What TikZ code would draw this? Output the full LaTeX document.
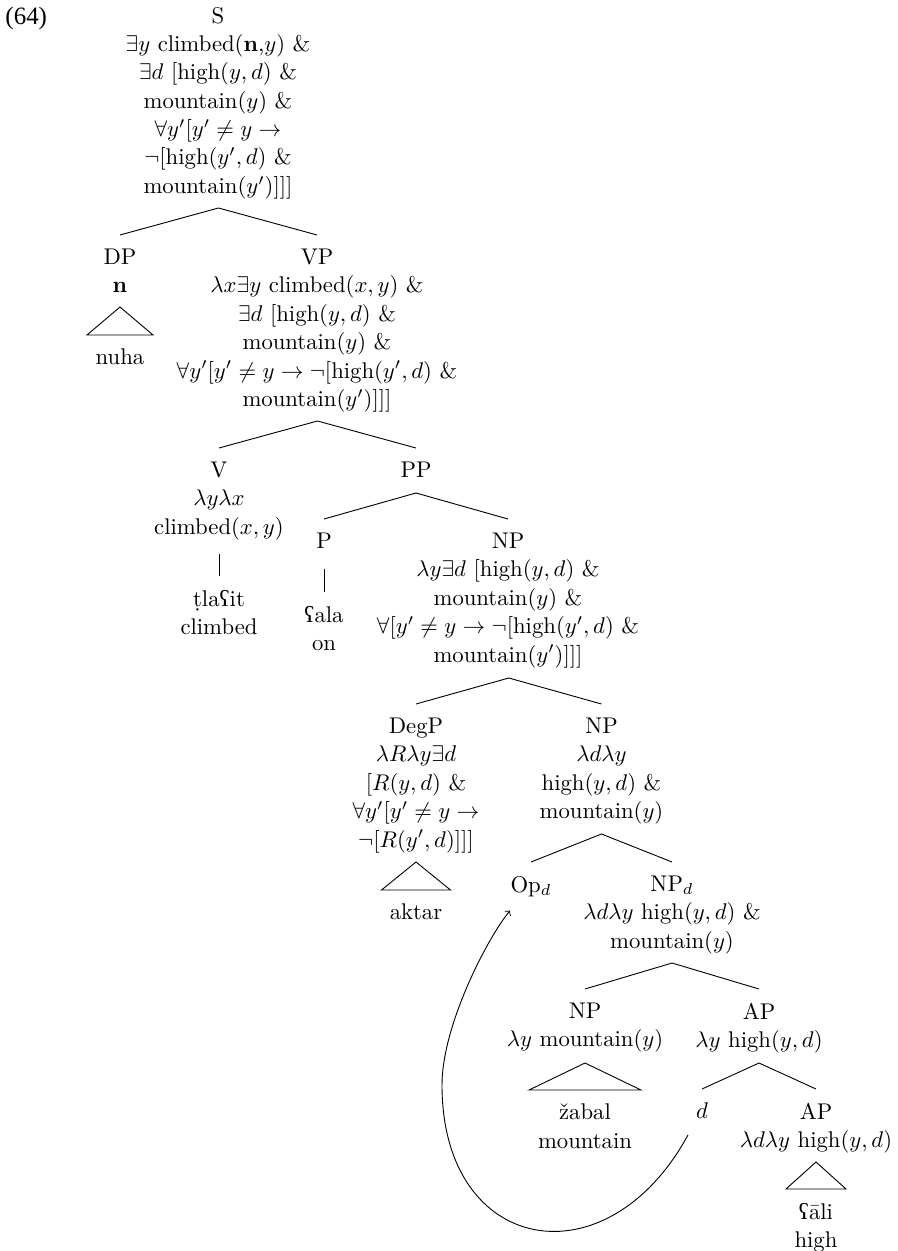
\documentclass[tikz,border=0pt]{standalone}
\usepackage{amsmath}
\usepackage{fontspec}
\newfontfamily\ipafont{Liberation Serif}
\newfontfamily\exfont{Liberation Serif}
\usetikzlibrary{calc}

\begin{document}
\begin{tikzpicture}[x=0.4405pt,y=-0.4405pt,
        lab/.style={anchor=north,align=center,inner xsep=0pt,inner ysep=6pt,font=\fontsize{10pt}{12.5pt}\selectfont}]
        \useasboundingbox (0,0) rectangle (897,1251);

        % Example number
        \node[anchor=west,inner sep=0pt,font=\exfont\fontsize{11pt}{13pt}\selectfont] (num) at (5,19) {(64)};

        % Draw the tree nodes
        \node[lab] (S) at (218,-7) {S\\$\exists y$ climbed(\textbf{n},$y$) \&\\$\exists d$ [high$(y,d)$ \&\\mountain$(y)$ \&\\$\forall y'[y'\neq y\to$\\$\neg[$high$(y',d)$ \&\\mountain$(y')]]]$};
        \node[lab] (DP) at (120,235) {DP\\\textbf{n}};
        \node[lab] (nuha) at (120,335) {nuha};
        \node[lab] (VP) at (317,235) {VP\\$\lambda x\exists y$ climbed$(x,y)$ \&\\$\exists d$ [high$(y,d)$ \&\\mountain$(y)$ \&\\$\forall y'[y'\neq y\to\neg[$high$(y',d)$ \&\\mountain$(y')]]]$};
        \node[lab] (V) at (219,448) {V\\$\lambda y\lambda x$\\climbed$(x,y)$};
        \node[lab] (tlait) at (219,576) {ṭla{\ipafont ʕ}it\\climbed};
        \node[lab] (PP) at (416,448) {PP};
        \node[lab] (P) at (324,519) {P};
        \node[lab] (ala) at (324,592) {{\ipafont ʕ}ala\\on};
        \node[lab] (NPa) at (508,519) {NP\\$\lambda y\exists d$ [high$(y,d)$ \&\\mountain$(y)$ \&\\$\forall[y'\neq y\to\neg[$high$(y',d)$ \&\\mountain$(y')]]]$};
        \node[lab] (DegP) at (416,704) {DegP\\$\lambda R\lambda y\exists d$\\$[R(y,d)$ \&\\$\forall y'[y'\neq y\to$\\$\neg[R(y',d)]]]$};
        \node[lab] (aktar) at (416,890) {aktar};
        \node[lab] (NPb) at (601.5,704) {NP\\$\lambda d\lambda y$\\high$(y,d)$ \&\\mountain$(y)$};
        \node[lab] (Op) at (531,862) {Op$_d$};
        \node[lab] (NPd) at (672,862) {NP$_d$\\$\lambda d\lambda y$ high$(y,d)$ \&\\mountain$(y)$};
        \node[lab] (NPc) at (585,989) {NP\\$\lambda y$ mountain$(y)$};
        \node[lab] (zabal) at (585,1090) {žabal\\mountain};
        \node[lab] (APa) at (759,989) {AP\\$\lambda y$ high$(y,d)$};
        \node[lab] (d) at (702,1089) {$d$};
        \node[lab] (APb) at (816,1089) {AP\\$\lambda d\lambda y$ high$(y,d)$};
        \node[lab] (ali) at (816,1189) {{\ipafont ʕ}āli\\high};

        % Draw the branches
        \draw (DP.north) -- ($(DP.north)!.5!(VP.north)+(0,-27)$) -- (VP.north);
        \draw (V.north) -- ($(V.north)!.5!(PP.north)+(0,-27)$) -- (PP.north);
        \draw (P.north) -- ($(P.north)!.5!(NPa.north)+(0,-26)$) -- (NPa.north);
        \draw (DegP.north) -- ($(DegP.north)!.5!(NPb.north)+(0,-26)$) -- (NPb.north);
        \draw (Op.north) -- ($(Op.north)!.5!(NPd.north)+(0,-28)$) -- (NPd.north);
        \draw (NPc.north) -- ($(NPc.north)!.5!(APa.north)+(0,-26)$) -- (APa.north);
        \draw (d.north) -- ($(d.north)!.5!(APb.north)+(0,-26)$) -- (APb.north);
        \draw (V.south) -- (tlait.north);
        \draw[shorten <=2.8pt] (P.south) -- (ala.north);

        % Draw the roofs
        \draw ($(nuha.north)+(0,-28)$) -- ++(-33,28) -- ++(66,0) -- cycle;
        \draw ($(aktar.north)+(0,-28)$) -- ++(-34.5,28) -- ++(69,0) -- cycle;
        \draw ($(zabal.north)+(0,-27)$) -- ++(-56,27) -- ++(112,0) -- cycle;
        \draw ($(ali.north)+(0,-27)$) -- ++(-30,27) -- ++(60,0) -- cycle;

        % Movement arrow from d up to Op
        \draw[->] ($(d.south)+(-14,2)$) .. controls (607,1284) and (442,1255) .. (442,1085)
            .. controls (442,1025) and (488,937) .. (Op.south west);
    \end{tikzpicture}
\end{document}
